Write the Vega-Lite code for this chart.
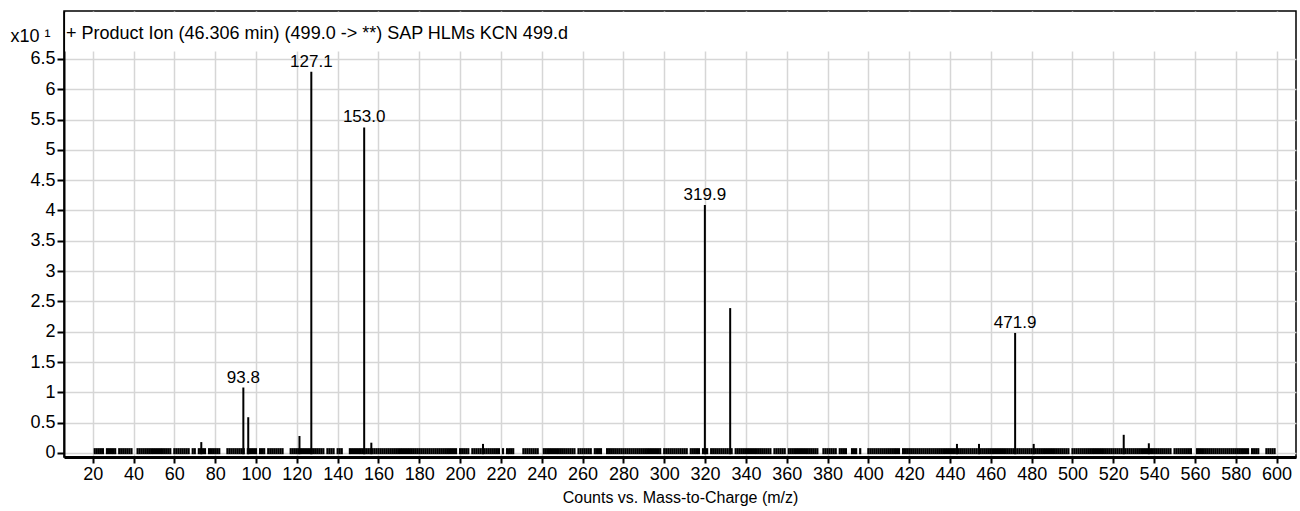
{
"$schema": "https://vega.github.io/schema/vega-lite/v6.json",
"width": 1232, "height": 446,
"autosize": {"type": "none"},
"padding": {"left": 64, "top": 11, "right": 4, "bottom": 54},
"background": "white",
"config": {
  "view": {"stroke": "black", "strokeWidth": 1.5},
  "font": "Liberation Sans",
  "axis": {"domainColor": "black", "tickColor": "black", "labelColor": "black", "titleColor": "black", "gridColor": "#d6d6d6", "gridWidth": 1.5, "labelFont": "Liberation Sans", "titleFont": "Liberation Sans", "titleFontWeight": "normal", "labelFontSize": 18}
},
"title": {"text": "+ Product Ion (46.306 min) (499.0 -> **) SAP HLMs KCN 499.d", "anchor": "start", "frame": "group", "offset": -46, "fontSize": 18, "fontWeight": "normal", "color": "black", "dx": 2, "baseline": "alphabetic", "font": "Liberation Sans"},
"datasets": {
"peaks": [
{"mz":73.2,"i":0.18},{"mz":93.8,"i":1.08,"label":"93.8"},{"mz":96.2,"i":0.59},{"mz":121.3,"i":0.28},{"mz":127.1,"i":6.29,"label":"127.1"},{"mz":153.0,"i":5.37,"label":"153.0"},{"mz":156.5,"i":0.17},{"mz":211.2,"i":0.15},{"mz":319.9,"i":4.09,"label":"319.9"},{"mz":332.3,"i":2.39},{"mz":443.4,"i":0.15},{"mz":454.2,"i":0.15},{"mz":471.9,"i":1.98,"label":"471.9"},{"mz":481.0,"i":0.15},{"mz":525.1,"i":0.30},{"mz":537.4,"i":0.16}
],
"noise": [
{"mz":21,"i":0.08},{"mz":22,"i":0.08},{"mz":23,"i":0.08},{"mz":24,"i":0.08},{"mz":25,"i":0.08},
{"mz":27,"i":0.08},{"mz":28,"i":0.08},{"mz":29,"i":0.08},{"mz":30,"i":0.08},{"mz":31,"i":0.08},
{"mz":33,"i":0.08},{"mz":34,"i":0.08},{"mz":35,"i":0.08},{"mz":36,"i":0.08},{"mz":37,"i":0.08},{"mz":38,"i":0.08},{"mz":39,"i":0.08},
{"mz":42,"i":0.08},{"mz":43,"i":0.08},{"mz":44,"i":0.08},{"mz":45,"i":0.08},{"mz":46,"i":0.08},{"mz":47,"i":0.08},{"mz":48,"i":0.08},{"mz":49,"i":0.08},{"mz":50,"i":0.08},{"mz":51,"i":0.08},{"mz":52,"i":0.08},{"mz":53,"i":0.08},{"mz":54,"i":0.08},{"mz":55,"i":0.08},{"mz":56,"i":0.08},{"mz":57,"i":0.08},{"mz":58,"i":0.08},
{"mz":60,"i":0.08},{"mz":61,"i":0.08},{"mz":62,"i":0.08},{"mz":63,"i":0.08},{"mz":64,"i":0.08},{"mz":65,"i":0.08},{"mz":66,"i":0.08},{"mz":67,"i":0.08},
{"mz":69,"i":0.08},{"mz":70,"i":0.08},
{"mz":72,"i":0.08},{"mz":73,"i":0.08},{"mz":74,"i":0.08},{"mz":75,"i":0.08},
{"mz":77,"i":0.08},{"mz":78,"i":0.08},{"mz":79,"i":0.08},{"mz":80,"i":0.08},{"mz":81,"i":0.08},{"mz":82,"i":0.08},
{"mz":86,"i":0.08},{"mz":87,"i":0.08},{"mz":88,"i":0.08},{"mz":89,"i":0.08},{"mz":90,"i":0.08},{"mz":91,"i":0.08},{"mz":92,"i":0.08},{"mz":93,"i":0.08},{"mz":94,"i":0.08},
{"mz":96,"i":0.08},{"mz":97,"i":0.08},{"mz":98,"i":0.08},{"mz":99,"i":0.08},{"mz":100,"i":0.08},
{"mz":102,"i":0.08},{"mz":103,"i":0.08},{"mz":104,"i":0.08},
{"mz":106,"i":0.08},{"mz":107,"i":0.08},{"mz":108,"i":0.08},{"mz":109,"i":0.08},{"mz":110,"i":0.08},{"mz":111,"i":0.08},{"mz":112,"i":0.08},{"mz":113,"i":0.08},
{"mz":117,"i":0.08},{"mz":118,"i":0.08},{"mz":119,"i":0.08},{"mz":120,"i":0.08},{"mz":121,"i":0.08},{"mz":122,"i":0.08},{"mz":123,"i":0.08},{"mz":124,"i":0.08},{"mz":125,"i":0.08},{"mz":126,"i":0.08},{"mz":127,"i":0.08},{"mz":128,"i":0.08},{"mz":129,"i":0.08},{"mz":130,"i":0.08},{"mz":131,"i":0.08},{"mz":132,"i":0.08},{"mz":133,"i":0.08},
{"mz":135,"i":0.08},{"mz":136,"i":0.08},{"mz":137,"i":0.08},{"mz":138,"i":0.08},
{"mz":140,"i":0.08},{"mz":141,"i":0.08},{"mz":142,"i":0.08},
{"mz":146,"i":0.08},{"mz":147,"i":0.08},{"mz":148,"i":0.08},{"mz":149,"i":0.08},{"mz":150,"i":0.08},{"mz":151,"i":0.08},{"mz":152,"i":0.08},{"mz":153,"i":0.08},{"mz":154,"i":0.08},{"mz":155,"i":0.08},{"mz":156,"i":0.08},{"mz":157,"i":0.08},{"mz":158,"i":0.08},{"mz":159,"i":0.08},{"mz":160,"i":0.08},{"mz":161,"i":0.08},{"mz":162,"i":0.08},{"mz":163,"i":0.08},{"mz":164,"i":0.08},{"mz":165,"i":0.08},{"mz":166,"i":0.08},{"mz":167,"i":0.08},{"mz":168,"i":0.08},{"mz":169,"i":0.08},{"mz":170,"i":0.08},{"mz":171,"i":0.08},{"mz":172,"i":0.08},{"mz":173,"i":0.08},{"mz":174,"i":0.08},{"mz":175,"i":0.08},{"mz":176,"i":0.08},{"mz":177,"i":0.08},{"mz":178,"i":0.08},{"mz":179,"i":0.08},{"mz":180,"i":0.08},{"mz":181,"i":0.08},{"mz":182,"i":0.08},{"mz":183,"i":0.08},{"mz":184,"i":0.08},{"mz":185,"i":0.08},{"mz":186,"i":0.08},{"mz":187,"i":0.08},{"mz":188,"i":0.08},{"mz":189,"i":0.08},{"mz":190,"i":0.08},{"mz":191,"i":0.08},{"mz":192,"i":0.08},{"mz":193,"i":0.08},{"mz":194,"i":0.08},{"mz":195,"i":0.08},{"mz":196,"i":0.08},{"mz":197,"i":0.08},{"mz":198,"i":0.08},
{"mz":200,"i":0.08},{"mz":201,"i":0.08},{"mz":202,"i":0.08},{"mz":203,"i":0.08},{"mz":204,"i":0.08},
{"mz":206,"i":0.08},{"mz":207,"i":0.08},{"mz":208,"i":0.08},{"mz":209,"i":0.08},{"mz":210,"i":0.08},{"mz":211,"i":0.08},{"mz":212,"i":0.08},{"mz":213,"i":0.08},{"mz":214,"i":0.08},{"mz":215,"i":0.08},{"mz":216,"i":0.08},{"mz":217,"i":0.08},{"mz":218,"i":0.08},{"mz":219,"i":0.08},
{"mz":221,"i":0.08},
{"mz":223,"i":0.08},{"mz":224,"i":0.08},{"mz":225,"i":0.08},{"mz":226,"i":0.08},
{"mz":231,"i":0.08},{"mz":232,"i":0.08},{"mz":233,"i":0.08},{"mz":234,"i":0.08},{"mz":235,"i":0.08},{"mz":236,"i":0.08},{"mz":237,"i":0.08},{"mz":238,"i":0.08},
{"mz":241,"i":0.08},{"mz":242,"i":0.08},{"mz":243,"i":0.08},{"mz":244,"i":0.08},{"mz":245,"i":0.08},{"mz":246,"i":0.08},{"mz":247,"i":0.08},{"mz":248,"i":0.08},{"mz":249,"i":0.08},{"mz":250,"i":0.08},{"mz":251,"i":0.08},{"mz":252,"i":0.08},{"mz":253,"i":0.08},{"mz":254,"i":0.08},{"mz":255,"i":0.08},{"mz":256,"i":0.08},
{"mz":258,"i":0.08},{"mz":259,"i":0.08},{"mz":260,"i":0.08},{"mz":261,"i":0.08},{"mz":262,"i":0.08},{"mz":263,"i":0.08},{"mz":264,"i":0.08},
{"mz":266,"i":0.08},{"mz":267,"i":0.08},{"mz":268,"i":0.08},{"mz":269,"i":0.08},
{"mz":272,"i":0.08},{"mz":273,"i":0.08},{"mz":274,"i":0.08},{"mz":275,"i":0.08},{"mz":276,"i":0.08},{"mz":277,"i":0.08},{"mz":278,"i":0.08},{"mz":279,"i":0.08},{"mz":280,"i":0.08},{"mz":281,"i":0.08},{"mz":282,"i":0.08},{"mz":283,"i":0.08},{"mz":284,"i":0.08},{"mz":285,"i":0.08},{"mz":286,"i":0.08},{"mz":287,"i":0.08},{"mz":288,"i":0.08},{"mz":289,"i":0.08},{"mz":290,"i":0.08},{"mz":291,"i":0.08},{"mz":292,"i":0.08},{"mz":293,"i":0.08},{"mz":294,"i":0.08},{"mz":295,"i":0.08},{"mz":296,"i":0.08},{"mz":297,"i":0.08},{"mz":298,"i":0.08},
{"mz":300,"i":0.08},{"mz":301,"i":0.08},{"mz":302,"i":0.08},{"mz":303,"i":0.08},{"mz":304,"i":0.08},{"mz":305,"i":0.08},{"mz":306,"i":0.08},{"mz":307,"i":0.08},{"mz":308,"i":0.08},{"mz":309,"i":0.08},{"mz":310,"i":0.08},{"mz":311,"i":0.08},
{"mz":313,"i":0.08},{"mz":314,"i":0.08},{"mz":315,"i":0.08},{"mz":316,"i":0.08},{"mz":317,"i":0.08},
{"mz":319,"i":0.08},{"mz":320,"i":0.08},{"mz":321,"i":0.08},
{"mz":323,"i":0.08},{"mz":324,"i":0.08},{"mz":325,"i":0.08},{"mz":326,"i":0.08},{"mz":327,"i":0.08},{"mz":328,"i":0.08},{"mz":329,"i":0.08},{"mz":330,"i":0.08},{"mz":331,"i":0.08},{"mz":332,"i":0.08},{"mz":333,"i":0.08},
{"mz":335,"i":0.08},{"mz":336,"i":0.08},{"mz":337,"i":0.08},{"mz":338,"i":0.08},{"mz":339,"i":0.08},{"mz":340,"i":0.08},{"mz":341,"i":0.08},{"mz":342,"i":0.08},{"mz":343,"i":0.08},{"mz":344,"i":0.08},{"mz":345,"i":0.08},{"mz":346,"i":0.08},{"mz":347,"i":0.08},{"mz":348,"i":0.08},{"mz":349,"i":0.08},{"mz":350,"i":0.08},{"mz":351,"i":0.08},{"mz":352,"i":0.08},
{"mz":354,"i":0.08},{"mz":355,"i":0.08},{"mz":356,"i":0.08},{"mz":357,"i":0.08},{"mz":358,"i":0.08},{"mz":359,"i":0.08},
{"mz":361,"i":0.08},{"mz":362,"i":0.08},{"mz":363,"i":0.08},{"mz":364,"i":0.08},{"mz":365,"i":0.08},{"mz":366,"i":0.08},{"mz":367,"i":0.08},{"mz":368,"i":0.08},{"mz":369,"i":0.08},{"mz":370,"i":0.08},{"mz":371,"i":0.08},{"mz":372,"i":0.08},{"mz":373,"i":0.08},{"mz":374,"i":0.08},{"mz":375,"i":0.08},
{"mz":378,"i":0.08},{"mz":379,"i":0.08},{"mz":380,"i":0.08},{"mz":381,"i":0.08},{"mz":382,"i":0.08},{"mz":383,"i":0.08},{"mz":384,"i":0.08},
{"mz":386,"i":0.08},{"mz":387,"i":0.08},{"mz":388,"i":0.08},{"mz":389,"i":0.08},
{"mz":392,"i":0.08},{"mz":393,"i":0.08},{"mz":394,"i":0.08},
{"mz":396,"i":0.08},
{"mz":400,"i":0.08},{"mz":401,"i":0.08},{"mz":402,"i":0.08},{"mz":403,"i":0.08},{"mz":404,"i":0.08},{"mz":405,"i":0.08},{"mz":406,"i":0.08},{"mz":407,"i":0.08},{"mz":408,"i":0.08},{"mz":409,"i":0.08},{"mz":410,"i":0.08},{"mz":411,"i":0.08},{"mz":412,"i":0.08},{"mz":413,"i":0.08},{"mz":414,"i":0.08},{"mz":415,"i":0.08},
{"mz":417,"i":0.08},{"mz":418,"i":0.08},{"mz":419,"i":0.08},{"mz":420,"i":0.08},{"mz":421,"i":0.08},{"mz":422,"i":0.08},{"mz":423,"i":0.08},{"mz":424,"i":0.08},{"mz":425,"i":0.08},{"mz":426,"i":0.08},{"mz":427,"i":0.08},{"mz":428,"i":0.08},{"mz":429,"i":0.08},{"mz":430,"i":0.08},{"mz":431,"i":0.08},{"mz":432,"i":0.08},{"mz":433,"i":0.08},{"mz":434,"i":0.08},{"mz":435,"i":0.08},{"mz":436,"i":0.08},{"mz":437,"i":0.08},{"mz":438,"i":0.08},{"mz":439,"i":0.08},{"mz":440,"i":0.08},{"mz":441,"i":0.08},{"mz":442,"i":0.08},{"mz":443,"i":0.08},{"mz":444,"i":0.08},{"mz":445,"i":0.08},{"mz":446,"i":0.08},{"mz":447,"i":0.08},{"mz":448,"i":0.08},{"mz":449,"i":0.08},{"mz":450,"i":0.08},{"mz":451,"i":0.08},{"mz":452,"i":0.08},{"mz":453,"i":0.08},{"mz":454,"i":0.08},{"mz":455,"i":0.08},{"mz":456,"i":0.08},{"mz":457,"i":0.08},{"mz":458,"i":0.08},{"mz":459,"i":0.08},{"mz":460,"i":0.08},{"mz":461,"i":0.08},{"mz":462,"i":0.08},{"mz":463,"i":0.08},{"mz":464,"i":0.08},{"mz":465,"i":0.08},{"mz":466,"i":0.08},{"mz":467,"i":0.08},{"mz":468,"i":0.08},{"mz":469,"i":0.08},{"mz":470,"i":0.08},{"mz":471,"i":0.08},{"mz":472,"i":0.08},{"mz":473,"i":0.08},{"mz":474,"i":0.08},{"mz":475,"i":0.08},{"mz":476,"i":0.08},{"mz":477,"i":0.08},{"mz":478,"i":0.08},{"mz":479,"i":0.08},{"mz":480,"i":0.08},{"mz":481,"i":0.08},{"mz":482,"i":0.08},{"mz":483,"i":0.08},{"mz":484,"i":0.08},{"mz":485,"i":0.08},{"mz":486,"i":0.08},{"mz":487,"i":0.08},{"mz":488,"i":0.08},{"mz":489,"i":0.08},{"mz":490,"i":0.08},{"mz":491,"i":0.08},{"mz":492,"i":0.08},{"mz":493,"i":0.08},{"mz":494,"i":0.08},{"mz":495,"i":0.08},{"mz":496,"i":0.08},{"mz":497,"i":0.08},{"mz":498,"i":0.08},
{"mz":500,"i":0.08},{"mz":501,"i":0.08},{"mz":502,"i":0.08},{"mz":503,"i":0.08},{"mz":504,"i":0.08},{"mz":505,"i":0.08},{"mz":506,"i":0.08},{"mz":507,"i":0.08},{"mz":508,"i":0.08},{"mz":509,"i":0.08},{"mz":510,"i":0.08},{"mz":511,"i":0.08},{"mz":512,"i":0.08},{"mz":513,"i":0.08},{"mz":514,"i":0.08},{"mz":515,"i":0.08},{"mz":516,"i":0.08},{"mz":517,"i":0.08},{"mz":518,"i":0.08},{"mz":519,"i":0.08},{"mz":520,"i":0.08},{"mz":521,"i":0.08},{"mz":522,"i":0.08},{"mz":523,"i":0.08},{"mz":524,"i":0.08},{"mz":525,"i":0.08},{"mz":526,"i":0.08},{"mz":527,"i":0.08},{"mz":528,"i":0.08},{"mz":529,"i":0.08},{"mz":530,"i":0.08},{"mz":531,"i":0.08},{"mz":532,"i":0.08},{"mz":533,"i":0.08},{"mz":534,"i":0.08},{"mz":535,"i":0.08},{"mz":536,"i":0.08},{"mz":537,"i":0.08},{"mz":538,"i":0.08},{"mz":539,"i":0.08},{"mz":540,"i":0.08},{"mz":541,"i":0.08},{"mz":542,"i":0.08},{"mz":543,"i":0.08},{"mz":544,"i":0.08},{"mz":545,"i":0.08},{"mz":546,"i":0.08},{"mz":547,"i":0.08},{"mz":548,"i":0.08},
{"mz":550,"i":0.08},{"mz":551,"i":0.08},{"mz":552,"i":0.08},{"mz":553,"i":0.08},{"mz":554,"i":0.08},{"mz":555,"i":0.08},{"mz":556,"i":0.08},{"mz":557,"i":0.08},{"mz":558,"i":0.08},
{"mz":561,"i":0.08},{"mz":562,"i":0.08},{"mz":563,"i":0.08},{"mz":564,"i":0.08},{"mz":565,"i":0.08},{"mz":566,"i":0.08},{"mz":567,"i":0.08},{"mz":568,"i":0.08},{"mz":569,"i":0.08},{"mz":570,"i":0.08},{"mz":571,"i":0.08},{"mz":572,"i":0.08},{"mz":573,"i":0.08},{"mz":574,"i":0.08},{"mz":575,"i":0.08},{"mz":576,"i":0.08},{"mz":577,"i":0.08},{"mz":578,"i":0.08},{"mz":579,"i":0.08},{"mz":580,"i":0.08},{"mz":581,"i":0.08},{"mz":582,"i":0.08},{"mz":583,"i":0.08},{"mz":584,"i":0.08},{"mz":585,"i":0.08},{"mz":586,"i":0.08},
{"mz":588,"i":0.08},{"mz":589,"i":0.08},{"mz":590,"i":0.08},{"mz":591,"i":0.08},
{"mz":595,"i":0.08},{"mz":596,"i":0.08},{"mz":597,"i":0.08},{"mz":598,"i":0.08},{"mz":599,"i":0.08}
]
},
"layer": [
  {
    "data": {"values": [{}]},
    "mark": {"type": "rect", "fill": "white"},
    "encoding": {
      "x": {"datum": 6.5, "type": "quantitative",
        "scale": {"domain": [5.94, 609.5], "nice": false, "zero": false},
        "axis": {"values": [20,40,60,80,100,120,140,160,180,200,220,240,260,280,300,320,340,360,380,400,420,440,460,480,500,520,540,560,580,600], "tickCount": 60, "grid": true, "tickSize": 6, "tickWidth": 2, "domainWidth": 3, "labelPadding": 2, "labelFlush": false, "labelOverlap": false, "title": "Counts vs. Mass-to-Charge (m/z)", "titleFontSize": 16, "titlePadding": 6}},
      "x2": {"datum": 609.0},
      "y": {"datum": 6.62, "type": "quantitative",
        "scale": {"domain": [-0.066, 7.29], "nice": false, "zero": false},
        "axis": {"values": [0,0.5,1,1.5,2,2.5,3,3.5,4,4.5,5,5.5,6,6.5], "tickCount": 30, "format": "~g", "grid": true, "tickSize": 7, "tickWidth": 2, "domainWidth": 2, "labelPadding": 2, "labelOverlap": false, "title": "x10 ¹", "titleAngle": 0, "titleAlign": "left", "titleBaseline": "alphabetic", "titleX": -54, "titleY": 30, "titleFontSize": 18}},
      "y2": {"datum": 7.27}
    }
  },
  {
    "data": {"name": "noise"},
    "mark": {"type": "rule", "color": "black", "strokeWidth": 2.2},
    "encoding": {
      "x": {"field": "mz", "type": "quantitative", "title": "Counts vs. Mass-to-Charge (m/z)"},
      "y": {"field": "i", "type": "quantitative", "title": "x10 ¹"},
      "y2": {"datum": -0.02}
    }
  },
  {
    "data": {"name": "peaks"},
    "mark": {"type": "rule", "color": "black", "strokeWidth": 2},
    "encoding": {
      "x": {"field": "mz", "type": "quantitative", "title": "Counts vs. Mass-to-Charge (m/z)"},
      "y": {"field": "i", "type": "quantitative", "title": "x10 ¹"},
      "y2": {"datum": -0.02}
    }
  },
  {
    "data": {"name": "peaks"},
    "transform": [{"filter": "isValid(datum.label)"}],
    "mark": {"type": "text", "color": "black", "fontSize": 17, "font": "Liberation Sans", "align": "center", "baseline": "alphabetic", "dy": -5},
    "encoding": {
      "x": {"field": "mz", "type": "quantitative", "title": "Counts vs. Mass-to-Charge (m/z)"},
      "y": {"field": "i", "type": "quantitative", "title": "x10 ¹"},
      "text": {"field": "label"}
    }
  }
]
}
